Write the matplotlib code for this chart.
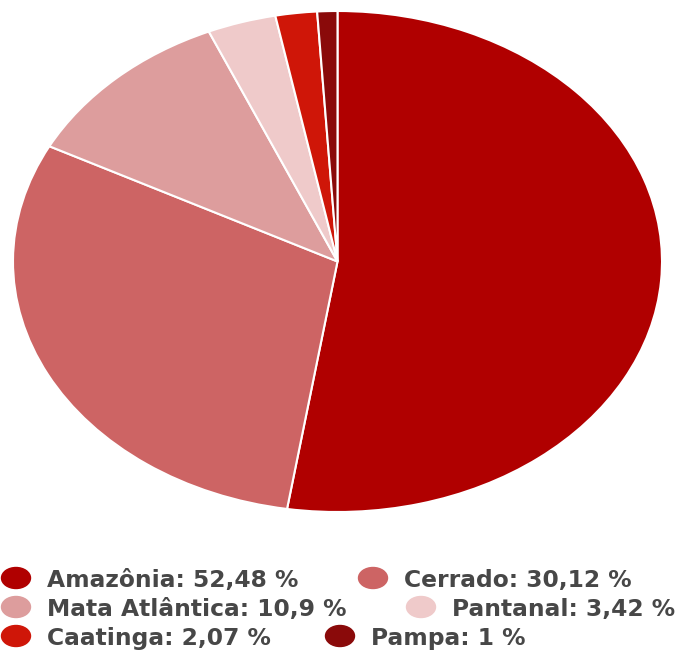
import matplotlib.pyplot as plt
from matplotlib.patches import Ellipse

biomas = ["Amazônia", "Cerrado", "Mata Atlântica", "Pantanal", "Caatinga", "Pampa"]
valores = [52.48, 30.12, 10.9, 3.42, 2.07, 1]
rotulos = ["52,48", "30,12", "10,9", "3,42", "2,07", "1"]
cores = ["#b00000", "#cd6464", "#dd9d9d", "#efcaca", "#cf1608", "#8a0a0a"]

W, H = 684, 651
fig = plt.figure(figsize=(W / 100, H / 100), dpi=100)

# pizza esticada na horizontal (eixo sem aspecto igual)
ax = fig.add_axes([13 / W, (H - 512) / H, 649 / W, 501 / H])
ax.pie(valores, colors=cores, startangle=90, counterclock=False, radius=1,
       wedgeprops=dict(edgecolor="white", linewidth=1.5))
ax.set_xlim(-1, 1)
ax.set_ylim(-1, 1)
ax.set_aspect("auto")
ax.axis("off")

# legenda em pixels
leg = fig.add_axes([0, 0, 1, 1], zorder=-1)
leg.set_xlim(0, W)
leg.set_ylim(H, 0)
leg.axis("off")
pos_marca = [16, 373, 16, 421, 16, 340]
linha = [0, 0, 1, 1, 2, 2]
for i in range(len(biomas)):
    yc = 578 + 29 * linha[i]
    leg.add_patch(Ellipse((pos_marca[i], yc), 29, 21, color=cores[i]))
    leg.text(pos_marca[i] + 31, yc + 9, f"{biomas[i]}: {rotulos[i]} %",
             fontsize=16.8, fontweight="bold", color="#474747",
             family="DejaVu Sans", va="baseline")

fig.savefig("out.png", dpi=100)
